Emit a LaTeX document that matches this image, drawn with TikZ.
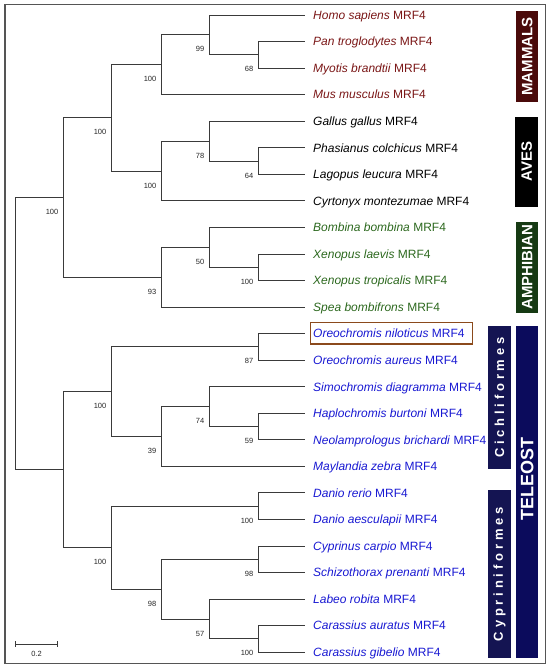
\documentclass[tikz,border=0pt]{standalone}
\usepackage{fontspec}
\setmainfont{Liberation Sans}
\definecolor{mam}{HTML}{7A1616}
\definecolor{ave}{HTML}{000000}
\definecolor{amp}{HTML}{2C681E}
\definecolor{tel}{HTML}{1818D2}
\definecolor{mambox}{HTML}{4A0A0A}
\definecolor{ampbox}{HTML}{163A13}
\definecolor{telbox}{HTML}{0B0B5C}
\definecolor{cicbox}{HTML}{141452}
\definecolor{branch}{HTML}{3A3A3A}
\definecolor{frame}{HTML}{555555}
\definecolor{hlcol}{HTML}{8B4A1C}
\begin{document}
\begin{tikzpicture}[x=1pt,y=-1pt,
  br/.style={draw=branch,line width=0.9pt},
  leaf/.style={inner sep=0pt,font=\fontsize{12}{14}\selectfont},
  bs/.style={inner sep=0pt,font=\fontsize{7.5}{9}\selectfont,text=black!85},
  sidebox/.style={rotate=90,inner sep=0pt,text=white,font=\bfseries\fontsize{15}{17}\selectfont},
  ordbox/.style={rotate=90,inner sep=0pt,text=white,font=\bfseries\fontsize{13}{15}\selectfont}]
\useasboundingbox (0,0) rectangle (550,669);
\draw[frame,line width=1.2pt] (5,4.7) rectangle (545.5,663.5);
% leaves
\foreach \i/\sp/\c in {0/Homo sapiens/mam,1/Pan troglodytes/mam,2/Myotis brandtii/mam,3/Mus musculus/mam,
  4/Gallus gallus/ave,5/Phasianus colchicus/ave,6/Lagopus leucura/ave,7/Cyrtonyx montezumae/ave,
  8/Bombina bombina/amp,9/Xenopus laevis/amp,10/Xenopus tropicalis/amp,11/Spea bombifrons/amp,
  12/Oreochromis niloticus/tel,13/Oreochromis aureus/tel,14/Simochromis diagramma/tel,15/Haplochromis burtoni/tel,
  16/Neolamprologus brichardi/tel,17/Maylandia zebra/tel,18/Danio rerio/tel,19/Danio aesculapii/tel,
  20/Cyprinus carpio/tel,21/Schizothorax prenanti/tel,22/Labeo robita/tel,23/Carassius auratus/tel,24/Carassius gibelio/tel}{
  \coordinate (l\i) at (305,15+26.55*\i);
  \node[leaf,text=\c,anchor=base west] (t\i) at (313,19.3+26.55*\i) {\textit{\sp} MRF4};
}
% internal nodes
\coordinate (M2) at (258,54.8);
\coordinate (M1) at (209,34.9);
\coordinate (M) at (161,64.8);
\coordinate (V2) at (258,161.0);
\coordinate (V1) at (209,141.1);
\coordinate (V) at (161,171.0);
\coordinate (C) at (111,117.9);
\coordinate (D2) at (258,267.2);
\coordinate (D1) at (209,247.3);
\coordinate (D) at (161,277.2);
\coordinate (A) at (63,197.5);
\coordinate (O) at (258,346.9);
\coordinate (Ci4) at (258,426.5);
\coordinate (Ci3) at (209,406.6);
\coordinate (Ci2) at (161,436.5);
\coordinate (Ci) at (111,391.7);
\coordinate (Dn) at (258,506.2);
\coordinate (Cy3) at (258,559.3);
\coordinate (Cy5) at (258,638.9);
\coordinate (Cy4) at (209,619.0);
\coordinate (Cy2) at (161,589.1);
\coordinate (Cy) at (111,547.7);
\coordinate (B) at (63,469.7);
\coordinate (R) at (15,333.6);
% edges
\foreach \p/\a/\b in {M2/l1/l2,M1/l0/M2,M/M1/l3,V2/l5/l6,V1/l4/V2,V/V1/l7,C/M/V,
  D2/l9/l10,D1/l8/D2,D/D1/l11,A/C/D,O/l12/l13,Ci4/l15/l16,Ci3/l14/Ci4,Ci2/Ci3/l17,Ci/O/Ci2,
  Dn/l18/l19,Cy3/l20/l21,Cy5/l23/l24,Cy4/l22/Cy5,Cy2/Cy3/Cy4,Cy/Dn/Cy2,B/Ci/Cy,R/A/B}{
  \draw[br] (\p) |- (\a);
  \draw[br] (\p) |- (\b);
}
% bootstrap values
\foreach \n/\v in {M2/68,M1/99,M/100,V2/64,V1/78,V/100,C/100,D2/100,D1/50,D/93,A/100,
  O/87,Ci4/59,Ci3/74,Ci2/39,Ci/100,Dn/100,Cy3/98,Cy5/100,Cy4/57,Cy2/98,Cy/100}{
  \node[bs,anchor=east] (bs-\n) at ([xshift=-4.5pt,yshift=-14.5pt]\n) {\v};
}
% highlight
\node[draw=hlcol,line width=1.3pt,inner sep=0pt,minimum width=161.6pt,minimum height=21.7pt] (hl) at (391.5,333.2) {};
% side boxes
\node[sidebox,fill=mambox,minimum width=90.7pt,minimum height=22.3pt] (mambx) at (527.2,56.4) {MAMMALS};
\node[sidebox,fill=black,minimum width=90pt,minimum height=23.3pt] (avebx) at (526.7,161.7) {AVES};
\node[sidebox,fill=ampbox,minimum width=91pt,minimum height=22.3pt] (ampbx) at (527.2,267.2) {AMPHIBIAN};
\node[sidebox,fill=telbox,minimum width=332.3pt,minimum height=22.3pt,font=\bfseries\fontsize{18}{20}\selectfont] (telbx) at (527.2,492.2) {\hspace*{26pt}TELEOST};
\def\ls{\kern3.8pt}
\node[ordbox,fill=cicbox,minimum width=143.3pt,minimum height=22.4pt] (cicbx) at (499.5,397.7) {C\ls i\ls c\ls h\ls l\ls i\ls f\ls o\ls r\ls m\ls e\ls s};
\node[ordbox,fill=cicbox,minimum width=168.3pt,minimum height=22.4pt] (cypbx) at (499.5,574.2) {C\ls y\ls p\ls r\ls i\ls n\ls i\ls f\ls o\ls r\ls m\ls e\ls s};
% scale bar
\coordinate (s1) at (15.7,644);
\coordinate (s2) at (57.3,644);
\draw[br] (s1) -- (s2);
\draw[br] ([yshift=3pt]s1) -- ([yshift=-3pt]s1);
\draw[br] ([yshift=3pt]s2) -- ([yshift=-3pt]s2);
\node[bs] (sl) at (36.5,653.5) {0.2};
\end{tikzpicture}
\end{document}
